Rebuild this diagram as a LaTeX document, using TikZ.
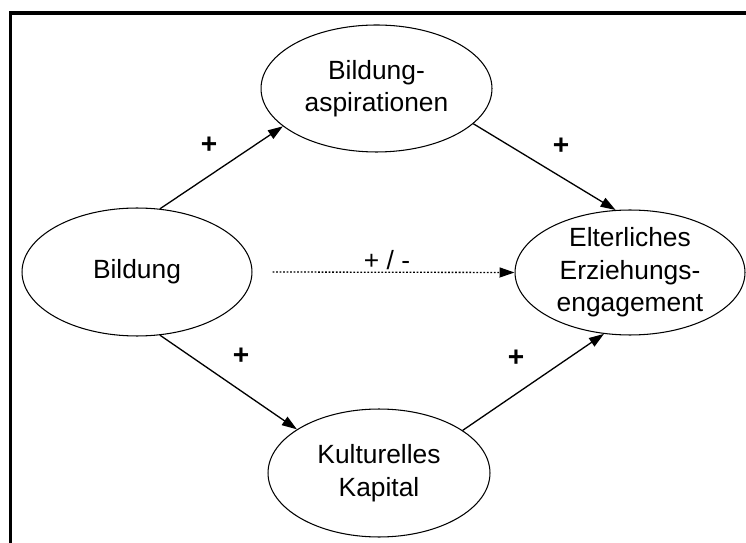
\documentclass[tikz,border=0pt]{standalone}
\usepackage{fontspec}
\setmainfont{Liberation Sans}
\usetikzlibrary{arrows.meta}
\usetikzlibrary{shapes.geometric}

\begin{document}
\begin{tikzpicture}[x=0.02cm,y=-0.02cm]
  \tikzset{
    var/.style={draw,ellipse,line width=0.6pt,inner sep=-3pt,align=center,
      font=\fontsize{15}{18.5}\selectfont},
    eff/.style={draw,line width=0.75pt,-{Triangle[length=0.3cm,width=0.2cm]}},
    sign/.style={font=\fontsize{16}{18}\selectfont\bfseries},
  }
  \useasboundingbox (0,0) rectangle (746,543);
  \draw[line width=0.08cm] (10.5,560) |- (760,13.5);
  \node[var,minimum width=4.6cm,minimum height=2.56cm] (bild) at (137,272) {Bildung};
  \node[var,minimum width=4.62cm,minimum height=2.54cm] (asp) at (376.5,88.5) {Bildung-\\aspirationen};
  \node[var,minimum width=4.6cm,minimum height=2.5cm] (elt) at (630,272.5) {Elterliches\\Erziehungs-\\engagement};
  \node[var,minimum width=4.44cm,minimum height=2.56cm] (kult) at (379,473) {Kulturelles\\Kapital};
  \draw[eff] (bild.70) -- (asp.202);
  \draw[eff] (asp.340) -- (elt.103);
  \draw[eff] (bild.290) -- (kult.152);
  \draw[eff] (kult.27) -- (elt.247);
  \draw[eff,dash pattern=on 1pt off 1pt] ([xshift=0.4cm]bild.east) -- (elt.west);
  \node[sign] (p1) at (209,145) {+};
  \node[sign] (p2) at (561,146) {+};
  \node[sign] (p3) at (241,356) {+};
  \node[sign] (p4) at (516,358) {+};
  \node[font=\fontsize{15}{18}\selectfont] (pm) at (387,260) {+ / -};
\end{tikzpicture}
\end{document}
